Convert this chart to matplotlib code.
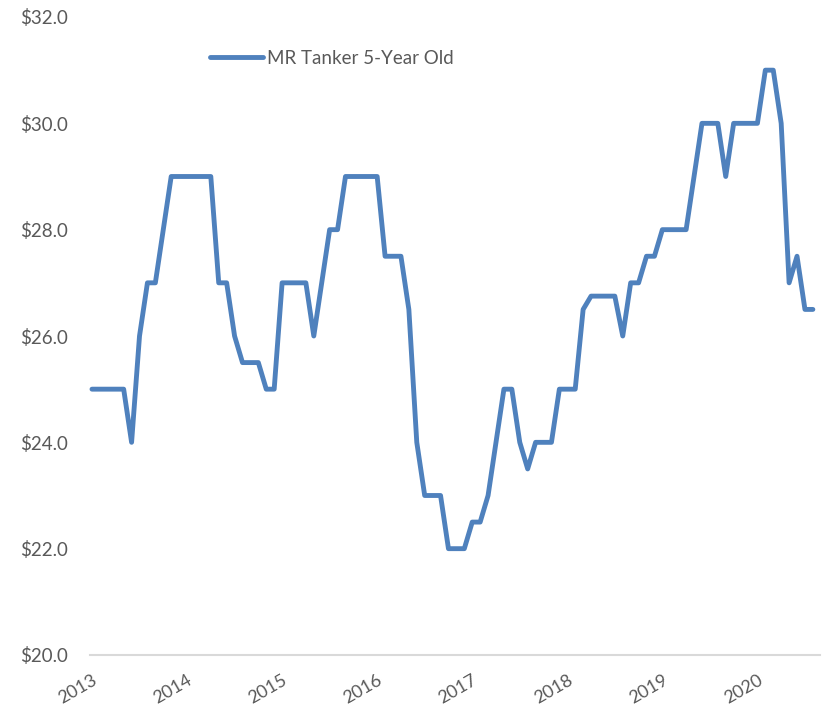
import matplotlib
matplotlib.use("Agg")
import matplotlib.pyplot as plt
import numpy as np

plt.rcParams['font.family'] = ['Lato', 'DejaVu Sans']

# Monthly values, Jan 2013 onward
values = [
    25, 25, 25, 25, 25, 24, 26, 27, 27, 28, 29, 29,
    29, 29, 29, 29, 27, 27, 26, 25.5, 25.5, 25.5, 25, 25,
    27, 27, 27, 27, 26, 27, 28, 28, 29, 29, 29, 29,
    29, 27.5, 27.5, 27.5, 26.5, 24, 23, 23, 23, 22, 22, 22,
    22.5, 22.5, 23, 24, 25, 25, 24, 23.5, 24, 24, 24, 25,
    25, 25, 26.5, 26.75, 26.75, 26.75, 26.75, 26, 27, 27, 27.5, 27.5,
    28, 28, 28, 28, 29, 30, 30, 30, 29, 30, 30, 30,
    30, 31, 31, 30, 27, 27.5, 26.5, 26.5,
]
year_labels = ['2013', '2014', '2015', '2016', '2017', '2018', '2019', '2020']
y_ticks = [20, 22, 24, 26, 28, 30, 32]
series_name = 'MR Tanker 5-Year Old'

months = np.arange(len(values))

fig = plt.figure(figsize=(8.22, 7.05), dpi=100)
ax = fig.add_axes([90/822, 1-655/705, 730/822, (655-17)/705])

ax.plot(months, values, color='#4F81BD', linewidth=3.5,
        solid_joinstyle='round', solid_capstyle='round', label=series_name,
        clip_on=False)

ax.set_ylim(20, 32)
ax.set_xlim(-0.25, 91.9)
ax.set_yticks(y_ticks)
ax.set_yticklabels([f'${v:.1f}' for v in y_ticks])
ax.set_xticks(np.arange(len(year_labels)) * 12)
ax.set_xticklabels(year_labels, rotation=30, ha='right', va='top',
                   rotation_mode='anchor')

for s in ['top', 'right', 'left']:
    ax.spines[s].set_visible(False)
ax.spines['bottom'].set_color('#D9D9D9')
ax.spines['bottom'].set_linewidth(1.5)
ax.tick_params(axis='both', length=0, labelcolor='#595959', labelsize=13.5)
ax.tick_params(axis='y', pad=16)
ax.tick_params(axis='x', pad=12, labelsize=13)

leg = ax.legend(loc='center left', bbox_to_anchor=(120/730, (655-58)/638),
                frameon=False, borderpad=0, borderaxespad=0,
                fontsize=13.5, handlelength=2.8, handletextpad=0.25)
for t in leg.get_texts():
    t.set_color('#595959')

fig.savefig('out.png', dpi=100)
